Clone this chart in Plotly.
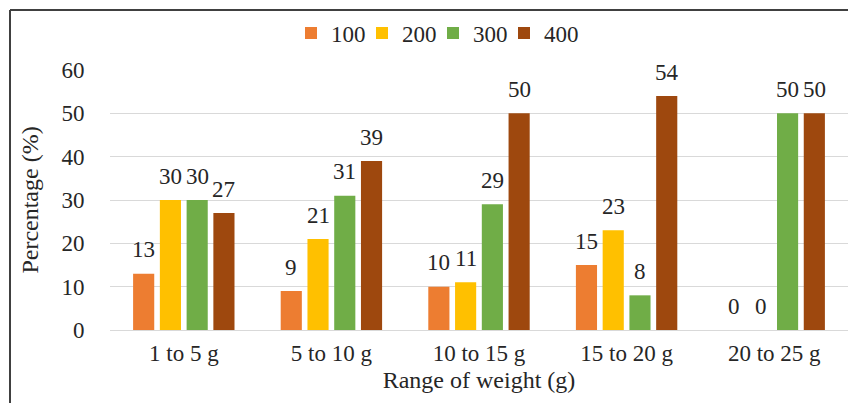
import plotly.graph_objects as go

# Weight ranges on the x axis
categories = ["1 to 5 g", "5 to 10 g", "10 to 15 g", "15 to 20 g", "20 to 25 g"]

# Percentage of fish in each weight range, per stocking density
series_names = ["100", "200", "300", "400"]
pct_100 = [13, 9, 10, 15, 0]
pct_200 = [30, 21, 11, 23, 0]
pct_300 = [30, 31, 29, 8, 50]
pct_400 = [27, 39, 50, 54, 50]
series_values = [pct_100, pct_200, pct_300, pct_400]

y_ticks = [0, 10, 20, 30, 40, 50, 60]

colors = ["#ED7D31", "#FFC000", "#70AD47", "#9E480E"]
FONT = "Liberation Serif"
TXT = "#262626"
FS = 23
FS_TITLE = 24

W, H = 848, 403
ML, MR, MT, MB = 110, 0, 70, 73
BARGAP, GROUPGAP = 0.275, 0.21

fig = go.Figure()
for i, (name, vals, col) in enumerate(zip(series_names, series_values, colors)):
    last = i == len(series_names) - 1
    fig.add_trace(go.Bar(name=name, x=categories, y=vals, marker_color=col,
                         marker_line_width=0,
                         legendwidth=45 if last else None))

# Value labels above each bar, shifted into each bar's slot within the group
plot_w = W - ML - MR
cat_w = plot_w / len(categories)
slot = cat_w * (1 - BARGAP) / len(series_names)
annotations = []
for j, vals in enumerate(series_values):
    dx = (j - (len(series_names) - 1) / 2) * slot
    for cat, v in zip(categories, vals):
        annotations.append(dict(x=cat, y=v, xref="x", yref="y", text=str(v),
                                showarrow=False, xshift=dx, yshift=24,
                                yanchor="middle", xanchor="center",
                                font=dict(family=FONT, size=FS, color=TXT)))

def px_x(p):
    return (p - ML) / plot_w

def px_y(p):
    return (H - MB - p) / (H - MT - MB)

# Chart frame: left and top edges
shapes = [
    dict(type="line", xref="paper", yref="paper", x0=px_x(10), x1=px_x(10),
         y0=px_y(10), y1=px_y(H + 5), line=dict(color="#404040", width=2)),
    dict(type="line", xref="paper", yref="paper", x0=px_x(10), x1=px_x(W + 5),
         y0=px_y(10), y1=px_y(10), line=dict(color="#404040", width=2)),
]

fig.update_layout(
    width=W, height=H,
    margin=dict(l=ML, r=MR, t=MT, b=MB, pad=0),
    paper_bgcolor="white", plot_bgcolor="white",
    barmode="group", bargap=BARGAP, bargroupgap=GROUPGAP,
    font=dict(family=FONT, size=FS, color=TXT),
    legend=dict(orientation="h", x=px_x(291), y=px_y(33), xanchor="left",
                yanchor="middle", font=dict(family=FONT, size=FS, color=TXT),
                itemwidth=30, entrywidth=26, entrywidthmode="pixels"),
    annotations=annotations,
    shapes=shapes,
)
fig.update_xaxes(showgrid=False, showline=False, ticks="outside", ticklen=2,
                 tickcolor="rgba(0,0,0,0)",
                 title=dict(text="Range of weight (g)", standoff=6,
                            font=dict(family=FONT, size=FS_TITLE, color=TXT)),
                 automargin=False, tickfont=dict(family=FONT, size=FS, color=TXT))
fig.update_yaxes(range=[0, 60], tickvals=y_ticks, showgrid=True,
                 gridcolor="#d9d9d9", gridwidth=1.3, zeroline=True,
                 zerolinecolor="#d9d9d9", zerolinewidth=1.3,
                 ticks="outside", ticklen=20, tickcolor="rgba(0,0,0,0)",
                 title=dict(text="Percentage (%)", standoff=16,
                            font=dict(family=FONT, size=FS_TITLE, color=TXT)),
                 automargin=False, tickfont=dict(family=FONT, size=FS, color=TXT))

fig.write_html("out.html")
